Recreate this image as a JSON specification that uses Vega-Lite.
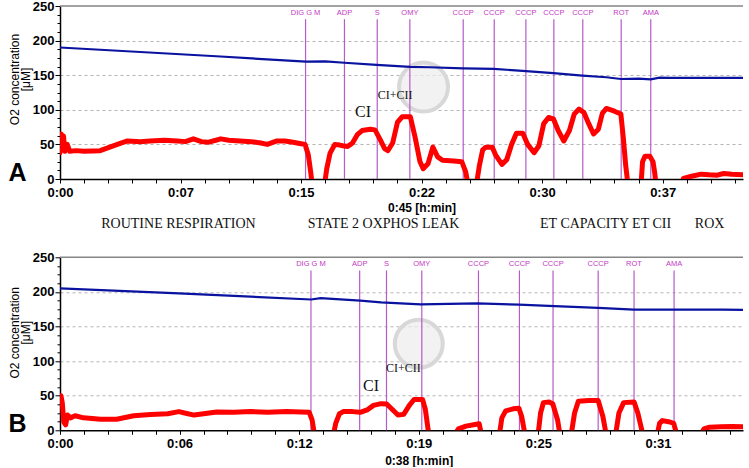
{
  "$schema": "https://vega.github.io/schema/vega-lite/v6.json",
  "padding": {"left": 8, "top": 0, "right": 0, "bottom": 0},
  "bounds": "flush",
  "spacing": 78.3,
  "config": {
    "view": {"stroke": null},
    "font": "Liberation Sans",
    "axis": {"labelFont": "Liberation Sans", "labelFontWeight": "bold", "labelFontSize": 13, "labelColor": "#000", "domainColor": "#000", "domainWidth": 1.5, "tickColor": "#000", "tickWidth": 1, "titleFont": "Liberation Sans", "titleColor": "#000", "labelFlush": false, "labelOverlap": false, "labelBound": false}
  },
  "datasets": {
    "redA": [
      {"t": 0, "v": 38, "seg": 1}, {"t": 0.08, "v": 65, "seg": 1}, {"t": 0.15, "v": 45, "seg": 1}, {"t": 0.22, "v": 62, "seg": 1}, {"t": 0.3, "v": 40, "seg": 1}, {"t": 0.45, "v": 50, "seg": 1}, {"t": 0.6, "v": 40, "seg": 1}, {"t": 1.0, "v": 41, "seg": 1}, {"t": 1.5, "v": 40, "seg": 1}, {"t": 2.5, "v": 41, "seg": 1}, {"t": 3.1, "v": 46, "seg": 1}, {"t": 3.7, "v": 51, "seg": 1}, {"t": 4.2, "v": 55, "seg": 1}, {"t": 5.0, "v": 54, "seg": 1}, {"t": 5.6, "v": 55, "seg": 1}, {"t": 6.5, "v": 56, "seg": 1}, {"t": 7.3, "v": 55, "seg": 1}, {"t": 7.8, "v": 54, "seg": 1}, {"t": 8.3, "v": 58, "seg": 1}, {"t": 8.8, "v": 54, "seg": 1}, {"t": 9.2, "v": 53, "seg": 1}, {"t": 9.7, "v": 56, "seg": 1}, {"t": 10.0, "v": 58, "seg": 1}, {"t": 10.5, "v": 56, "seg": 1}, {"t": 11.2, "v": 55, "seg": 1}, {"t": 11.9, "v": 54, "seg": 1}, {"t": 12.5, "v": 52, "seg": 1}, {"t": 12.9, "v": 50, "seg": 1}, {"t": 13.5, "v": 55, "seg": 1}, {"t": 14.0, "v": 55, "seg": 1}, {"t": 14.5, "v": 53, "seg": 1}, {"t": 15.0, "v": 51, "seg": 1}, {"t": 15.25, "v": 50, "seg": 1}, {"t": 15.45, "v": 35, "seg": 1}, {"t": 15.6, "v": 10, "seg": 1}, {"t": 15.7, "v": -10, "seg": 1},
      {"t": 16.45, "v": -10, "seg": 2}, {"t": 16.6, "v": 15, "seg": 2}, {"t": 16.8, "v": 37, "seg": 2}, {"t": 17.1, "v": 50, "seg": 2}, {"t": 17.4, "v": 49, "seg": 2}, {"t": 17.6, "v": 48, "seg": 2}, {"t": 17.9, "v": 47, "seg": 2}, {"t": 18.2, "v": 52, "seg": 2}, {"t": 18.5, "v": 64, "seg": 2}, {"t": 18.8, "v": 70, "seg": 2}, {"t": 19.3, "v": 72, "seg": 2}, {"t": 19.6, "v": 71, "seg": 2}, {"t": 19.9, "v": 58, "seg": 2}, {"t": 20.2, "v": 44, "seg": 2}, {"t": 20.4, "v": 41, "seg": 2}, {"t": 20.7, "v": 52, "seg": 2}, {"t": 21.0, "v": 82, "seg": 2}, {"t": 21.3, "v": 90, "seg": 2}, {"t": 21.8, "v": 90, "seg": 2}, {"t": 22.1, "v": 60, "seg": 2}, {"t": 22.4, "v": 25, "seg": 2}, {"t": 22.6, "v": 15, "seg": 2}, {"t": 22.9, "v": 22, "seg": 2}, {"t": 23.2, "v": 46, "seg": 2}, {"t": 23.5, "v": 32, "seg": 2}, {"t": 23.8, "v": 27, "seg": 2}, {"t": 24.5, "v": 26, "seg": 2}, {"t": 25.0, "v": 25, "seg": 2}, {"t": 25.25, "v": 10, "seg": 2}, {"t": 25.4, "v": -10, "seg": 2},
      {"t": 25.9, "v": -10, "seg": 3}, {"t": 26.1, "v": 20, "seg": 3}, {"t": 26.3, "v": 42, "seg": 3}, {"t": 26.5, "v": 46, "seg": 3}, {"t": 26.9, "v": 46, "seg": 3}, {"t": 27.1, "v": 35, "seg": 3}, {"t": 27.5, "v": 21, "seg": 3}, {"t": 27.8, "v": 28, "seg": 3}, {"t": 28.1, "v": 50, "seg": 3}, {"t": 28.4, "v": 66, "seg": 3}, {"t": 28.8, "v": 66, "seg": 3}, {"t": 29.1, "v": 50, "seg": 3}, {"t": 29.5, "v": 38, "seg": 3}, {"t": 29.8, "v": 48, "seg": 3}, {"t": 30.1, "v": 80, "seg": 3}, {"t": 30.4, "v": 89, "seg": 3}, {"t": 30.7, "v": 87, "seg": 3}, {"t": 31.0, "v": 70, "seg": 3}, {"t": 31.35, "v": 55, "seg": 3}, {"t": 31.7, "v": 70, "seg": 3}, {"t": 32.0, "v": 94, "seg": 3}, {"t": 32.3, "v": 101, "seg": 3}, {"t": 32.6, "v": 96, "seg": 3}, {"t": 32.9, "v": 80, "seg": 3}, {"t": 33.2, "v": 65, "seg": 3}, {"t": 33.5, "v": 72, "seg": 3}, {"t": 33.75, "v": 95, "seg": 3}, {"t": 34.0, "v": 102, "seg": 3}, {"t": 34.5, "v": 98, "seg": 3}, {"t": 34.9, "v": 94, "seg": 3}, {"t": 35.05, "v": 60, "seg": 3}, {"t": 35.2, "v": 20, "seg": 3}, {"t": 35.35, "v": -10, "seg": 3},
      {"t": 36.15, "v": -10, "seg": 4}, {"t": 36.25, "v": 25, "seg": 4}, {"t": 36.4, "v": 33, "seg": 4}, {"t": 36.7, "v": 33, "seg": 4}, {"t": 36.9, "v": 25, "seg": 4}, {"t": 37.0, "v": 10, "seg": 4}, {"t": 37.1, "v": -10, "seg": 4},
      {"t": 38.6, "v": -10, "seg": 5}, {"t": 38.8, "v": 1, "seg": 5}, {"t": 39.3, "v": 4, "seg": 5}, {"t": 39.9, "v": 7, "seg": 5}, {"t": 40.4, "v": 6, "seg": 5}, {"t": 40.9, "v": 5.5, "seg": 5}, {"t": 41.3, "v": 8, "seg": 5}, {"t": 41.8, "v": 7, "seg": 5}, {"t": 42.5, "v": 6, "seg": 5}
    ],
    "blueA": [
      {"t": 0, "v": 190}, {"t": 5, "v": 183.5}, {"t": 10, "v": 177}, {"t": 15.3, "v": 169.5}, {"t": 16.5, "v": 170}, {"t": 17.7, "v": 168}, {"t": 19.7, "v": 165}, {"t": 21.8, "v": 162}, {"t": 23, "v": 161.5}, {"t": 25.1, "v": 160}, {"t": 27, "v": 159}, {"t": 29, "v": 156}, {"t": 30.7, "v": 153}, {"t": 32.5, "v": 149.5}, {"t": 34, "v": 147}, {"t": 34.9, "v": 144.5}, {"t": 36, "v": 145}, {"t": 36.76, "v": 144}, {"t": 37.3, "v": 146.5}, {"t": 38, "v": 146}, {"t": 42.5, "v": 146}
    ],
    "eventsA": [
      {"t": 15.28, "label": "DIG G M"}, {"t": 17.7, "label": "ADP"}, {"t": 19.74, "label": "S"}, {"t": 21.77, "label": "OMY"}, {"t": 25.09, "label": "CCCP"}, {"t": 27.02, "label": "CCCP"}, {"t": 28.99, "label": "CCCP"}, {"t": 30.73, "label": "CCCP"}, {"t": 32.53, "label": "CCCP"}, {"t": 34.92, "label": "ROT"}, {"t": 36.76, "label": "AMA"}
    ],
    "notesA": [
      {"t": 18.86, "v": 96.4, "label": "CI", "size": "big"}, {"t": 20.85, "v": 121.8, "label": "CI+CII", "size": "small"}
    ],
    "phasesA": [
      {"t": 7.37, "label": "ROUTINE RESPIRATION"}, {"t": 20.13, "label": "STATE 2  OXPHOS LEAK"}, {"t": 33.95, "label": "ET CAPACITY ET CII"}, {"t": 40.42, "label": "ROX"}
    ],
    "logoA": [{"t": 22.62, "v": 133}],
    "redB": [
      {"t": 0, "v": 45, "seg": 1}, {"t": 0.05, "v": 50, "seg": 1}, {"t": 0.12, "v": 40, "seg": 1}, {"t": 0.2, "v": 12, "seg": 1}, {"t": 0.3, "v": 8, "seg": 1}, {"t": 0.4, "v": 22, "seg": 1}, {"t": 0.55, "v": 18, "seg": 1}, {"t": 0.8, "v": 21, "seg": 1}, {"t": 1.25, "v": 18, "seg": 1}, {"t": 2.15, "v": 16, "seg": 1}, {"t": 3.0, "v": 16, "seg": 1}, {"t": 3.9, "v": 21, "seg": 1}, {"t": 4.8, "v": 23, "seg": 1}, {"t": 5.7, "v": 24, "seg": 1}, {"t": 6.3, "v": 27, "seg": 1}, {"t": 6.6, "v": 25, "seg": 1}, {"t": 7.1, "v": 22, "seg": 1}, {"t": 7.6, "v": 24, "seg": 1}, {"t": 8.3, "v": 26.5, "seg": 1}, {"t": 9.2, "v": 26, "seg": 1}, {"t": 10.1, "v": 27, "seg": 1}, {"t": 11.0, "v": 26, "seg": 1}, {"t": 12.0, "v": 27, "seg": 1}, {"t": 12.75, "v": 26.5, "seg": 1}, {"t": 13.2, "v": 26, "seg": 1}, {"t": 13.35, "v": 15, "seg": 1}, {"t": 13.5, "v": -10, "seg": 1},
      {"t": 14.45, "v": -10, "seg": 2}, {"t": 14.6, "v": 10, "seg": 2}, {"t": 14.8, "v": 24, "seg": 2}, {"t": 15.0, "v": 27, "seg": 2}, {"t": 15.5, "v": 27, "seg": 2}, {"t": 15.9, "v": 26, "seg": 2}, {"t": 16.3, "v": 30, "seg": 2}, {"t": 16.6, "v": 36, "seg": 2}, {"t": 17.0, "v": 38.5, "seg": 2}, {"t": 17.3, "v": 38, "seg": 2}, {"t": 17.6, "v": 30, "seg": 2}, {"t": 17.9, "v": 22, "seg": 2}, {"t": 18.2, "v": 23, "seg": 2}, {"t": 18.5, "v": 36, "seg": 2}, {"t": 18.75, "v": 44.5, "seg": 2}, {"t": 19.2, "v": 44.5, "seg": 2}, {"t": 19.35, "v": 30, "seg": 2}, {"t": 19.55, "v": -10, "seg": 2},
      {"t": 20.8, "v": -10, "seg": 3}, {"t": 21.1, "v": 2, "seg": 3}, {"t": 21.5, "v": 6, "seg": 3}, {"t": 21.9, "v": 8, "seg": 3}, {"t": 22.2, "v": 9.5, "seg": 3}, {"t": 22.35, "v": -10, "seg": 3},
      {"t": 23.25, "v": -10, "seg": 4}, {"t": 23.4, "v": 18, "seg": 4}, {"t": 23.6, "v": 28, "seg": 4}, {"t": 24.0, "v": 31, "seg": 4}, {"t": 24.3, "v": 32, "seg": 4}, {"t": 24.45, "v": 20, "seg": 4}, {"t": 24.65, "v": -10, "seg": 4},
      {"t": 25.3, "v": -10, "seg": 5}, {"t": 25.45, "v": 25, "seg": 5}, {"t": 25.6, "v": 40, "seg": 5}, {"t": 25.9, "v": 41, "seg": 5}, {"t": 26.1, "v": 38, "seg": 5}, {"t": 26.35, "v": 15, "seg": 5}, {"t": 26.5, "v": -10, "seg": 5},
      {"t": 27.05, "v": -10, "seg": 6}, {"t": 27.25, "v": 25, "seg": 6}, {"t": 27.45, "v": 42, "seg": 6}, {"t": 28.0, "v": 43, "seg": 6}, {"t": 28.5, "v": 43, "seg": 6}, {"t": 28.75, "v": 20, "seg": 6}, {"t": 28.95, "v": -10, "seg": 6},
      {"t": 29.4, "v": -10, "seg": 7}, {"t": 29.6, "v": 25, "seg": 7}, {"t": 29.85, "v": 40, "seg": 7}, {"t": 30.4, "v": 41, "seg": 7}, {"t": 30.6, "v": 25, "seg": 7}, {"t": 30.9, "v": -10, "seg": 7},
      {"t": 31.6, "v": -10, "seg": 8}, {"t": 31.75, "v": 10, "seg": 8}, {"t": 31.9, "v": 14, "seg": 8}, {"t": 32.3, "v": 12, "seg": 8}, {"t": 32.5, "v": 10, "seg": 8}, {"t": 32.7, "v": -10, "seg": 8},
      {"t": 33.85, "v": -10, "seg": 9}, {"t": 34.1, "v": 2, "seg": 9}, {"t": 34.4, "v": 4.5, "seg": 9}, {"t": 35.0, "v": 5, "seg": 9}, {"t": 35.6, "v": 5.5, "seg": 9}, {"t": 36.17, "v": 5, "seg": 9}
    ],
    "blueB": [
      {"t": 0, "v": 205}, {"t": 6.3, "v": 198}, {"t": 13.3, "v": 189}, {"t": 13.8, "v": 191}, {"t": 15.9, "v": 187.5}, {"t": 17.0, "v": 185}, {"t": 19.1, "v": 182}, {"t": 22.1, "v": 183.5}, {"t": 24.3, "v": 181.5}, {"t": 26.2, "v": 179.5}, {"t": 28.5, "v": 177}, {"t": 30.4, "v": 174.5}, {"t": 32.5, "v": 174.5}, {"t": 35.1, "v": 174.5}, {"t": 36.17, "v": 174}
    ],
    "eventsB": [
      {"t": 13.29, "label": "DIG G M"}, {"t": 15.87, "label": "ADP"}, {"t": 17.29, "label": "S"}, {"t": 19.16, "label": "OMY"}, {"t": 22.16, "label": "CCCP"}, {"t": 24.33, "label": "CCCP"}, {"t": 26.11, "label": "CCCP"}, {"t": 28.5, "label": "CCCP"}, {"t": 30.4, "label": "ROT"}, {"t": 32.52, "label": "AMA"}
    ],
    "notesB": [
      {"t": 16.47, "v": 64, "label": "CI", "size": "big"}, {"t": 18.18, "v": 90, "label": "CI+CII", "size": "small"}
    ],
    "logoB": [{"t": 19.0, "v": 125}]
  },
  "vconcat": [
    {
      "width": 683, "height": 173,
      "layer": [
        {
          "data": {"name": "logoA"},
          "mark": {"type": "point", "filled": true, "fill": "#ececec", "fillOpacity": 0.7, "stroke": "#d8d8d8", "strokeWidth": 4, "size": 2400},
          "encoding": {
            "x": {"field": "t", "type": "quantitative", "scale": {"domain": [0, 42.5], "nice": false, "zero": false},
              "axis": {"values": [0,1.5,3,4.5,6,7.5,9,10.5,12,13.5,15,16.5,18,19.5,21,22.5,24,25.5,27,28.5,30,31.5,33,34.5,36,37.5,39,40.5,42], "labelExpr": "datum.value % 7.5 === 0 ? '0:' + (floor(datum.value) < 10 ? '0' : '') + floor(datum.value) : ''", "tickSize": 4, "labelPadding": 3, "grid": false, "title": "0:45 [h:min]", "titleX": 361.5, "titleY": 28, "titleBaseline": "middle", "titleAlign": "center", "titleFontWeight": "bold", "titleFontSize": 12}},
            "y": {"field": "v", "type": "quantitative", "scale": {"domain": [0, 250], "nice": false},
              "axis": {"values": [0,12.5,25,37.5,50,62.5,75,87.5,100,112.5,125,137.5,150,162.5,175,187.5,200,212.5,225,237.5,250], "labelExpr": "datum.value % 50 === 0 ? datum.value : ''", "tickSize": {"condition": {"test": "datum.value % 50 === 0", "value": 5}, "value": 3}, "labelPadding": 1, "grid": true, "gridDash": [3, 3], "gridColor": "#b4b4b4", "gridOpacity": {"condition": {"test": "datum.value % 50 === 0 && datum.value > 0 && datum.value < 250", "value": 1}, "value": 0}, "title": ["O2 concentration", "[μM]"], "titleX": -39, "titleY": 73, "titleAngle": 270, "titleBaseline": "bottom", "titleAlign": "center", "titleFontWeight": "normal", "titleFontSize": 12, "titleLineHeight": 11}}
          }
        },
        {
          "data": {"values": [{}]},
          "mark": {"type": "rule", "color": "#858585", "strokeWidth": 1.5},
          "encoding": {
            "y": {"datum": 250, "axis": {"values": [0,12.5,25,37.5,50,62.5,75,87.5,100,112.5,125,137.5,150,162.5,175,187.5,200,212.5,225,237.5,250], "labelExpr": "datum.value % 50 === 0 ? datum.value : ''", "tickSize": {"condition": {"test": "datum.value % 50 === 0", "value": 5}, "value": 3}, "labelPadding": 1, "grid": true, "gridDash": [3, 3], "gridColor": "#b4b4b4", "gridOpacity": {"condition": {"test": "datum.value % 50 === 0 && datum.value > 0 && datum.value < 250", "value": 1}, "value": 0}, "title": ["O2 concentration", "[μM]"], "titleX": -39, "titleY": 73, "titleAngle": 270, "titleBaseline": "bottom", "titleAlign": "center", "titleFontWeight": "normal", "titleFontSize": 12, "titleLineHeight": 11}}
          }
        },
        {
          "data": {"name": "eventsA"},
          "mark": {"type": "rule", "color": "#b45cc8", "strokeWidth": 1.2},
          "encoding": {
            "x": {"field": "t", "type": "quantitative", "axis": {"values": [0,1.5,3,4.5,6,7.5,9,10.5,12,13.5,15,16.5,18,19.5,21,22.5,24,25.5,27,28.5,30,31.5,33,34.5,36,37.5,39,40.5,42], "labelExpr": "datum.value % 7.5 === 0 ? '0:' + (floor(datum.value) < 10 ? '0' : '') + floor(datum.value) : ''", "tickSize": 4, "labelPadding": 3, "grid": false, "title": "0:45 [h:min]", "titleX": 361.5, "titleY": 28, "titleBaseline": "middle", "titleAlign": "center", "titleFontWeight": "bold", "titleFontSize": 12}},
            "y": {"datum": 0, "axis": {"values": [0,12.5,25,37.5,50,62.5,75,87.5,100,112.5,125,137.5,150,162.5,175,187.5,200,212.5,225,237.5,250], "labelExpr": "datum.value % 50 === 0 ? datum.value : ''", "tickSize": {"condition": {"test": "datum.value % 50 === 0", "value": 5}, "value": 3}, "labelPadding": 1, "grid": true, "gridDash": [3, 3], "gridColor": "#b4b4b4", "gridOpacity": {"condition": {"test": "datum.value % 50 === 0 && datum.value > 0 && datum.value < 250", "value": 1}, "value": 0}, "title": ["O2 concentration", "[μM]"], "titleX": -39, "titleY": 73, "titleAngle": 270, "titleBaseline": "bottom", "titleAlign": "center", "titleFontWeight": "normal", "titleFontSize": 12, "titleLineHeight": 11}},
            "y2": {"datum": 231}
          }
        },
        {
          "data": {"name": "eventsA"},
          "mark": {"type": "text", "color": "#c23ac2", "fontSize": 7.5, "font": "Liberation Sans", "baseline": "middle", "align": "center"},
          "encoding": {
            "x": {"field": "t", "type": "quantitative", "axis": {"values": [0,1.5,3,4.5,6,7.5,9,10.5,12,13.5,15,16.5,18,19.5,21,22.5,24,25.5,27,28.5,30,31.5,33,34.5,36,37.5,39,40.5,42], "labelExpr": "datum.value % 7.5 === 0 ? '0:' + (floor(datum.value) < 10 ? '0' : '') + floor(datum.value) : ''", "tickSize": 4, "labelPadding": 3, "grid": false, "title": "0:45 [h:min]", "titleX": 361.5, "titleY": 28, "titleBaseline": "middle", "titleAlign": "center", "titleFontWeight": "bold", "titleFontSize": 12}},
            "y": {"datum": 240, "axis": {"values": [0,12.5,25,37.5,50,62.5,75,87.5,100,112.5,125,137.5,150,162.5,175,187.5,200,212.5,225,237.5,250], "labelExpr": "datum.value % 50 === 0 ? datum.value : ''", "tickSize": {"condition": {"test": "datum.value % 50 === 0", "value": 5}, "value": 3}, "labelPadding": 1, "grid": true, "gridDash": [3, 3], "gridColor": "#b4b4b4", "gridOpacity": {"condition": {"test": "datum.value % 50 === 0 && datum.value > 0 && datum.value < 250", "value": 1}, "value": 0}, "title": ["O2 concentration", "[μM]"], "titleX": -39, "titleY": 73, "titleAngle": 270, "titleBaseline": "bottom", "titleAlign": "center", "titleFontWeight": "normal", "titleFontSize": 12, "titleLineHeight": 11}},
            "text": {"field": "label"}
          }
        },
        {
          "data": {"name": "blueA"},
          "mark": {"type": "line", "color": "#0a12a0", "strokeWidth": 2.2},
          "encoding": {
            "x": {"field": "t", "type": "quantitative", "axis": {"values": [0,1.5,3,4.5,6,7.5,9,10.5,12,13.5,15,16.5,18,19.5,21,22.5,24,25.5,27,28.5,30,31.5,33,34.5,36,37.5,39,40.5,42], "labelExpr": "datum.value % 7.5 === 0 ? '0:' + (floor(datum.value) < 10 ? '0' : '') + floor(datum.value) : ''", "tickSize": 4, "labelPadding": 3, "grid": false, "title": "0:45 [h:min]", "titleX": 361.5, "titleY": 28, "titleBaseline": "middle", "titleAlign": "center", "titleFontWeight": "bold", "titleFontSize": 12}},
            "y": {"field": "v", "type": "quantitative", "axis": {"values": [0,12.5,25,37.5,50,62.5,75,87.5,100,112.5,125,137.5,150,162.5,175,187.5,200,212.5,225,237.5,250], "labelExpr": "datum.value % 50 === 0 ? datum.value : ''", "tickSize": {"condition": {"test": "datum.value % 50 === 0", "value": 5}, "value": 3}, "labelPadding": 1, "grid": true, "gridDash": [3, 3], "gridColor": "#b4b4b4", "gridOpacity": {"condition": {"test": "datum.value % 50 === 0 && datum.value > 0 && datum.value < 250", "value": 1}, "value": 0}, "title": ["O2 concentration", "[μM]"], "titleX": -39, "titleY": 73, "titleAngle": 270, "titleBaseline": "bottom", "titleAlign": "center", "titleFontWeight": "normal", "titleFontSize": 12, "titleLineHeight": 11}}
          }
        },
        {
          "data": {"name": "redA"},
          "mark": {"type": "line", "color": "#ff0000", "strokeWidth": 5, "clip": true, "strokeJoin": "round", "strokeCap": "round"},
          "encoding": {
            "x": {"field": "t", "type": "quantitative", "axis": {"values": [0,1.5,3,4.5,6,7.5,9,10.5,12,13.5,15,16.5,18,19.5,21,22.5,24,25.5,27,28.5,30,31.5,33,34.5,36,37.5,39,40.5,42], "labelExpr": "datum.value % 7.5 === 0 ? '0:' + (floor(datum.value) < 10 ? '0' : '') + floor(datum.value) : ''", "tickSize": 4, "labelPadding": 3, "grid": false, "title": "0:45 [h:min]", "titleX": 361.5, "titleY": 28, "titleBaseline": "middle", "titleAlign": "center", "titleFontWeight": "bold", "titleFontSize": 12}},
            "y": {"field": "v", "type": "quantitative", "axis": {"values": [0,12.5,25,37.5,50,62.5,75,87.5,100,112.5,125,137.5,150,162.5,175,187.5,200,212.5,225,237.5,250], "labelExpr": "datum.value % 50 === 0 ? datum.value : ''", "tickSize": {"condition": {"test": "datum.value % 50 === 0", "value": 5}, "value": 3}, "labelPadding": 1, "grid": true, "gridDash": [3, 3], "gridColor": "#b4b4b4", "gridOpacity": {"condition": {"test": "datum.value % 50 === 0 && datum.value > 0 && datum.value < 250", "value": 1}, "value": 0}, "title": ["O2 concentration", "[μM]"], "titleX": -39, "titleY": 73, "titleAngle": 270, "titleBaseline": "bottom", "titleAlign": "center", "titleFontWeight": "normal", "titleFontSize": 12, "titleLineHeight": 11}},
            "detail": {"field": "seg"}
          }
        },
        {
          "data": {"name": "notesA"},
          "mark": {"type": "text", "font": "Liberation Serif", "color": "#111", "baseline": "middle", "align": "center"},
          "encoding": {
            "x": {"field": "t", "type": "quantitative", "axis": {"values": [0,1.5,3,4.5,6,7.5,9,10.5,12,13.5,15,16.5,18,19.5,21,22.5,24,25.5,27,28.5,30,31.5,33,34.5,36,37.5,39,40.5,42], "labelExpr": "datum.value % 7.5 === 0 ? '0:' + (floor(datum.value) < 10 ? '0' : '') + floor(datum.value) : ''", "tickSize": 4, "labelPadding": 3, "grid": false, "title": "0:45 [h:min]", "titleX": 361.5, "titleY": 28, "titleBaseline": "middle", "titleAlign": "center", "titleFontWeight": "bold", "titleFontSize": 12}},
            "y": {"field": "v", "type": "quantitative", "axis": {"values": [0,12.5,25,37.5,50,62.5,75,87.5,100,112.5,125,137.5,150,162.5,175,187.5,200,212.5,225,237.5,250], "labelExpr": "datum.value % 50 === 0 ? datum.value : ''", "tickSize": {"condition": {"test": "datum.value % 50 === 0", "value": 5}, "value": 3}, "labelPadding": 1, "grid": true, "gridDash": [3, 3], "gridColor": "#b4b4b4", "gridOpacity": {"condition": {"test": "datum.value % 50 === 0 && datum.value > 0 && datum.value < 250", "value": 1}, "value": 0}, "title": ["O2 concentration", "[μM]"], "titleX": -39, "titleY": 73, "titleAngle": 270, "titleBaseline": "bottom", "titleAlign": "center", "titleFontWeight": "normal", "titleFontSize": 12, "titleLineHeight": 11}},
            "text": {"field": "label"},
            "size": {"field": "size", "type": "nominal", "scale": {"domain": ["big", "small"], "range": [16, 12]}, "legend": null}
          }
        },
        {
          "data": {"name": "phasesA"},
          "mark": {"type": "text", "font": "Liberation Serif", "fontSize": 14, "color": "#111", "baseline": "middle", "align": "center", "dy": 45},
          "encoding": {
            "x": {"field": "t", "type": "quantitative", "axis": {"values": [0,1.5,3,4.5,6,7.5,9,10.5,12,13.5,15,16.5,18,19.5,21,22.5,24,25.5,27,28.5,30,31.5,33,34.5,36,37.5,39,40.5,42], "labelExpr": "datum.value % 7.5 === 0 ? '0:' + (floor(datum.value) < 10 ? '0' : '') + floor(datum.value) : ''", "tickSize": 4, "labelPadding": 3, "grid": false, "title": "0:45 [h:min]", "titleX": 361.5, "titleY": 28, "titleBaseline": "middle", "titleAlign": "center", "titleFontWeight": "bold", "titleFontSize": 12}},
            "y": {"datum": 0, "axis": {"values": [0,12.5,25,37.5,50,62.5,75,87.5,100,112.5,125,137.5,150,162.5,175,187.5,200,212.5,225,237.5,250], "labelExpr": "datum.value % 50 === 0 ? datum.value : ''", "tickSize": {"condition": {"test": "datum.value % 50 === 0", "value": 5}, "value": 3}, "labelPadding": 1, "grid": true, "gridDash": [3, 3], "gridColor": "#b4b4b4", "gridOpacity": {"condition": {"test": "datum.value % 50 === 0 && datum.value > 0 && datum.value < 250", "value": 1}, "value": 0}, "title": ["O2 concentration", "[μM]"], "titleX": -39, "titleY": 73, "titleAngle": 270, "titleBaseline": "bottom", "titleAlign": "center", "titleFontWeight": "normal", "titleFontSize": 12, "titleLineHeight": 11}},
            "text": {"field": "label"}
          }
        },
        {
          "data": {"values": [{"panel": "A"}]},
          "mark": {"type": "text", "font": "Liberation Sans", "fontWeight": "bold", "fontSize": 25, "color": "#000", "baseline": "alphabetic", "align": "left", "dx": -51.5, "dy": 2},
          "encoding": {
            "x": {"datum": 0, "axis": {"values": [0,1.5,3,4.5,6,7.5,9,10.5,12,13.5,15,16.5,18,19.5,21,22.5,24,25.5,27,28.5,30,31.5,33,34.5,36,37.5,39,40.5,42], "labelExpr": "datum.value % 7.5 === 0 ? '0:' + (floor(datum.value) < 10 ? '0' : '') + floor(datum.value) : ''", "tickSize": 4, "labelPadding": 3, "grid": false, "title": "0:45 [h:min]", "titleX": 361.5, "titleY": 28, "titleBaseline": "middle", "titleAlign": "center", "titleFontWeight": "bold", "titleFontSize": 12}},
            "y": {"datum": 0, "axis": {"values": [0,12.5,25,37.5,50,62.5,75,87.5,100,112.5,125,137.5,150,162.5,175,187.5,200,212.5,225,237.5,250], "labelExpr": "datum.value % 50 === 0 ? datum.value : ''", "tickSize": {"condition": {"test": "datum.value % 50 === 0", "value": 5}, "value": 3}, "labelPadding": 1, "grid": true, "gridDash": [3, 3], "gridColor": "#b4b4b4", "gridOpacity": {"condition": {"test": "datum.value % 50 === 0 && datum.value > 0 && datum.value < 250", "value": 1}, "value": 0}, "title": ["O2 concentration", "[μM]"], "titleX": -39, "titleY": 73, "titleAngle": 270, "titleBaseline": "bottom", "titleAlign": "center", "titleFontWeight": "normal", "titleFontSize": 12, "titleLineHeight": 11}},
            "text": {"field": "panel"}
          }
        }
      ]
    },
    {
      "width": 683, "height": 173,
      "layer": [
        {
          "data": {"name": "logoB"},
          "mark": {"type": "point", "filled": true, "fill": "#ececec", "fillOpacity": 0.7, "stroke": "#d8d8d8", "strokeWidth": 4, "size": 2300},
          "encoding": {
            "x": {"field": "t", "type": "quantitative", "scale": {"domain": [0, 36.17], "nice": false, "zero": false},
              "axis": {"values": [0,1.266667,2.533333,3.8,5.066667,6.333333,7.6,8.866667,10.133333,11.4,12.666667,13.933333,15.2,16.466667,17.733333,19,20.266667,21.533333,22.8,24.066667,25.333333,26.6,27.866667,29.133333,30.4,31.666667,32.933333,34.2,35.466667], "labelExpr": "abs(datum.value * 6 / 19 - round(datum.value * 6 / 19)) < 0.01 ? '0:' + (floor(datum.value + 0.001) < 10 ? '0' : '') + floor(datum.value + 0.001) : ''", "tickSize": 4, "labelPadding": 3, "grid": false, "title": "0:38 [h:min]", "titleX": 358.7, "titleY": 30, "titleBaseline": "middle", "titleAlign": "center", "titleFontWeight": "bold", "titleFontSize": 12}},
            "y": {"field": "v", "type": "quantitative", "scale": {"domain": [0, 250], "nice": false},
              "axis": {"values": [0,12.5,25,37.5,50,62.5,75,87.5,100,112.5,125,137.5,150,162.5,175,187.5,200,212.5,225,237.5,250], "labelExpr": "datum.value % 50 === 0 ? datum.value : ''", "tickSize": {"condition": {"test": "datum.value % 50 === 0", "value": 5}, "value": 3}, "labelPadding": 1, "grid": true, "gridDash": [3, 3], "gridColor": "#b4b4b4", "gridOpacity": {"condition": {"test": "datum.value % 50 === 0 && datum.value > 0 && datum.value < 250", "value": 1}, "value": 0}, "title": ["O2 concentration", "[μM]"], "titleX": -39, "titleY": 75, "titleAngle": 270, "titleBaseline": "bottom", "titleAlign": "center", "titleFontWeight": "normal", "titleFontSize": 12, "titleLineHeight": 11}}
          }
        },
        {
          "data": {"values": [{}]},
          "mark": {"type": "rule", "color": "#858585", "strokeWidth": 1.5},
          "encoding": {
            "y": {"datum": 250, "axis": {"values": [0,12.5,25,37.5,50,62.5,75,87.5,100,112.5,125,137.5,150,162.5,175,187.5,200,212.5,225,237.5,250], "labelExpr": "datum.value % 50 === 0 ? datum.value : ''", "tickSize": {"condition": {"test": "datum.value % 50 === 0", "value": 5}, "value": 3}, "labelPadding": 1, "grid": true, "gridDash": [3, 3], "gridColor": "#b4b4b4", "gridOpacity": {"condition": {"test": "datum.value % 50 === 0 && datum.value > 0 && datum.value < 250", "value": 1}, "value": 0}, "title": ["O2 concentration", "[μM]"], "titleX": -39, "titleY": 75, "titleAngle": 270, "titleBaseline": "bottom", "titleAlign": "center", "titleFontWeight": "normal", "titleFontSize": 12, "titleLineHeight": 11}}
          }
        },
        {
          "data": {"name": "eventsB"},
          "mark": {"type": "rule", "color": "#b45cc8", "strokeWidth": 1.2},
          "encoding": {
            "x": {"field": "t", "type": "quantitative", "axis": {"values": [0,1.266667,2.533333,3.8,5.066667,6.333333,7.6,8.866667,10.133333,11.4,12.666667,13.933333,15.2,16.466667,17.733333,19,20.266667,21.533333,22.8,24.066667,25.333333,26.6,27.866667,29.133333,30.4,31.666667,32.933333,34.2,35.466667], "labelExpr": "abs(datum.value * 6 / 19 - round(datum.value * 6 / 19)) < 0.01 ? '0:' + (floor(datum.value + 0.001) < 10 ? '0' : '') + floor(datum.value + 0.001) : ''", "tickSize": 4, "labelPadding": 3, "grid": false, "title": "0:38 [h:min]", "titleX": 358.7, "titleY": 30, "titleBaseline": "middle", "titleAlign": "center", "titleFontWeight": "bold", "titleFontSize": 12}},
            "y": {"datum": 0, "axis": {"values": [0,12.5,25,37.5,50,62.5,75,87.5,100,112.5,125,137.5,150,162.5,175,187.5,200,212.5,225,237.5,250], "labelExpr": "datum.value % 50 === 0 ? datum.value : ''", "tickSize": {"condition": {"test": "datum.value % 50 === 0", "value": 5}, "value": 3}, "labelPadding": 1, "grid": true, "gridDash": [3, 3], "gridColor": "#b4b4b4", "gridOpacity": {"condition": {"test": "datum.value % 50 === 0 && datum.value > 0 && datum.value < 250", "value": 1}, "value": 0}, "title": ["O2 concentration", "[μM]"], "titleX": -39, "titleY": 75, "titleAngle": 270, "titleBaseline": "bottom", "titleAlign": "center", "titleFontWeight": "normal", "titleFontSize": 12, "titleLineHeight": 11}},
            "y2": {"datum": 231}
          }
        },
        {
          "data": {"name": "eventsB"},
          "mark": {"type": "text", "color": "#c23ac2", "fontSize": 7.5, "font": "Liberation Sans", "baseline": "middle", "align": "center"},
          "encoding": {
            "x": {"field": "t", "type": "quantitative", "axis": {"values": [0,1.266667,2.533333,3.8,5.066667,6.333333,7.6,8.866667,10.133333,11.4,12.666667,13.933333,15.2,16.466667,17.733333,19,20.266667,21.533333,22.8,24.066667,25.333333,26.6,27.866667,29.133333,30.4,31.666667,32.933333,34.2,35.466667], "labelExpr": "abs(datum.value * 6 / 19 - round(datum.value * 6 / 19)) < 0.01 ? '0:' + (floor(datum.value + 0.001) < 10 ? '0' : '') + floor(datum.value + 0.001) : ''", "tickSize": 4, "labelPadding": 3, "grid": false, "title": "0:38 [h:min]", "titleX": 358.7, "titleY": 30, "titleBaseline": "middle", "titleAlign": "center", "titleFontWeight": "bold", "titleFontSize": 12}},
            "y": {"datum": 240, "axis": {"values": [0,12.5,25,37.5,50,62.5,75,87.5,100,112.5,125,137.5,150,162.5,175,187.5,200,212.5,225,237.5,250], "labelExpr": "datum.value % 50 === 0 ? datum.value : ''", "tickSize": {"condition": {"test": "datum.value % 50 === 0", "value": 5}, "value": 3}, "labelPadding": 1, "grid": true, "gridDash": [3, 3], "gridColor": "#b4b4b4", "gridOpacity": {"condition": {"test": "datum.value % 50 === 0 && datum.value > 0 && datum.value < 250", "value": 1}, "value": 0}, "title": ["O2 concentration", "[μM]"], "titleX": -39, "titleY": 75, "titleAngle": 270, "titleBaseline": "bottom", "titleAlign": "center", "titleFontWeight": "normal", "titleFontSize": 12, "titleLineHeight": 11}},
            "text": {"field": "label"}
          }
        },
        {
          "data": {"name": "blueB"},
          "mark": {"type": "line", "color": "#0a12a0", "strokeWidth": 2.2},
          "encoding": {
            "x": {"field": "t", "type": "quantitative", "axis": {"values": [0,1.266667,2.533333,3.8,5.066667,6.333333,7.6,8.866667,10.133333,11.4,12.666667,13.933333,15.2,16.466667,17.733333,19,20.266667,21.533333,22.8,24.066667,25.333333,26.6,27.866667,29.133333,30.4,31.666667,32.933333,34.2,35.466667], "labelExpr": "abs(datum.value * 6 / 19 - round(datum.value * 6 / 19)) < 0.01 ? '0:' + (floor(datum.value + 0.001) < 10 ? '0' : '') + floor(datum.value + 0.001) : ''", "tickSize": 4, "labelPadding": 3, "grid": false, "title": "0:38 [h:min]", "titleX": 358.7, "titleY": 30, "titleBaseline": "middle", "titleAlign": "center", "titleFontWeight": "bold", "titleFontSize": 12}},
            "y": {"field": "v", "type": "quantitative", "axis": {"values": [0,12.5,25,37.5,50,62.5,75,87.5,100,112.5,125,137.5,150,162.5,175,187.5,200,212.5,225,237.5,250], "labelExpr": "datum.value % 50 === 0 ? datum.value : ''", "tickSize": {"condition": {"test": "datum.value % 50 === 0", "value": 5}, "value": 3}, "labelPadding": 1, "grid": true, "gridDash": [3, 3], "gridColor": "#b4b4b4", "gridOpacity": {"condition": {"test": "datum.value % 50 === 0 && datum.value > 0 && datum.value < 250", "value": 1}, "value": 0}, "title": ["O2 concentration", "[μM]"], "titleX": -39, "titleY": 75, "titleAngle": 270, "titleBaseline": "bottom", "titleAlign": "center", "titleFontWeight": "normal", "titleFontSize": 12, "titleLineHeight": 11}}
          }
        },
        {
          "data": {"name": "redB"},
          "mark": {"type": "line", "color": "#ff0000", "strokeWidth": 5, "clip": true, "strokeJoin": "round", "strokeCap": "round"},
          "encoding": {
            "x": {"field": "t", "type": "quantitative", "axis": {"values": [0,1.266667,2.533333,3.8,5.066667,6.333333,7.6,8.866667,10.133333,11.4,12.666667,13.933333,15.2,16.466667,17.733333,19,20.266667,21.533333,22.8,24.066667,25.333333,26.6,27.866667,29.133333,30.4,31.666667,32.933333,34.2,35.466667], "labelExpr": "abs(datum.value * 6 / 19 - round(datum.value * 6 / 19)) < 0.01 ? '0:' + (floor(datum.value + 0.001) < 10 ? '0' : '') + floor(datum.value + 0.001) : ''", "tickSize": 4, "labelPadding": 3, "grid": false, "title": "0:38 [h:min]", "titleX": 358.7, "titleY": 30, "titleBaseline": "middle", "titleAlign": "center", "titleFontWeight": "bold", "titleFontSize": 12}},
            "y": {"field": "v", "type": "quantitative", "axis": {"values": [0,12.5,25,37.5,50,62.5,75,87.5,100,112.5,125,137.5,150,162.5,175,187.5,200,212.5,225,237.5,250], "labelExpr": "datum.value % 50 === 0 ? datum.value : ''", "tickSize": {"condition": {"test": "datum.value % 50 === 0", "value": 5}, "value": 3}, "labelPadding": 1, "grid": true, "gridDash": [3, 3], "gridColor": "#b4b4b4", "gridOpacity": {"condition": {"test": "datum.value % 50 === 0 && datum.value > 0 && datum.value < 250", "value": 1}, "value": 0}, "title": ["O2 concentration", "[μM]"], "titleX": -39, "titleY": 75, "titleAngle": 270, "titleBaseline": "bottom", "titleAlign": "center", "titleFontWeight": "normal", "titleFontSize": 12, "titleLineHeight": 11}},
            "detail": {"field": "seg"}
          }
        },
        {
          "data": {"name": "notesB"},
          "mark": {"type": "text", "font": "Liberation Serif", "color": "#111", "baseline": "middle", "align": "center"},
          "encoding": {
            "x": {"field": "t", "type": "quantitative", "axis": {"values": [0,1.266667,2.533333,3.8,5.066667,6.333333,7.6,8.866667,10.133333,11.4,12.666667,13.933333,15.2,16.466667,17.733333,19,20.266667,21.533333,22.8,24.066667,25.333333,26.6,27.866667,29.133333,30.4,31.666667,32.933333,34.2,35.466667], "labelExpr": "abs(datum.value * 6 / 19 - round(datum.value * 6 / 19)) < 0.01 ? '0:' + (floor(datum.value + 0.001) < 10 ? '0' : '') + floor(datum.value + 0.001) : ''", "tickSize": 4, "labelPadding": 3, "grid": false, "title": "0:38 [h:min]", "titleX": 358.7, "titleY": 30, "titleBaseline": "middle", "titleAlign": "center", "titleFontWeight": "bold", "titleFontSize": 12}},
            "y": {"field": "v", "type": "quantitative", "axis": {"values": [0,12.5,25,37.5,50,62.5,75,87.5,100,112.5,125,137.5,150,162.5,175,187.5,200,212.5,225,237.5,250], "labelExpr": "datum.value % 50 === 0 ? datum.value : ''", "tickSize": {"condition": {"test": "datum.value % 50 === 0", "value": 5}, "value": 3}, "labelPadding": 1, "grid": true, "gridDash": [3, 3], "gridColor": "#b4b4b4", "gridOpacity": {"condition": {"test": "datum.value % 50 === 0 && datum.value > 0 && datum.value < 250", "value": 1}, "value": 0}, "title": ["O2 concentration", "[μM]"], "titleX": -39, "titleY": 75, "titleAngle": 270, "titleBaseline": "bottom", "titleAlign": "center", "titleFontWeight": "normal", "titleFontSize": 12, "titleLineHeight": 11}},
            "text": {"field": "label"},
            "size": {"field": "size", "type": "nominal", "scale": {"domain": ["big", "small"], "range": [16, 12]}, "legend": null}
          }
        },
        {
          "data": {"values": [{"panel": "B"}]},
          "mark": {"type": "text", "font": "Liberation Sans", "fontWeight": "bold", "fontSize": 25, "color": "#000", "baseline": "alphabetic", "align": "left", "dx": -51.5, "dy": 2},
          "encoding": {
            "x": {"datum": 0, "axis": {"values": [0,1.266667,2.533333,3.8,5.066667,6.333333,7.6,8.866667,10.133333,11.4,12.666667,13.933333,15.2,16.466667,17.733333,19,20.266667,21.533333,22.8,24.066667,25.333333,26.6,27.866667,29.133333,30.4,31.666667,32.933333,34.2,35.466667], "labelExpr": "abs(datum.value * 6 / 19 - round(datum.value * 6 / 19)) < 0.01 ? '0:' + (floor(datum.value + 0.001) < 10 ? '0' : '') + floor(datum.value + 0.001) : ''", "tickSize": 4, "labelPadding": 3, "grid": false, "title": "0:38 [h:min]", "titleX": 358.7, "titleY": 30, "titleBaseline": "middle", "titleAlign": "center", "titleFontWeight": "bold", "titleFontSize": 12}},
            "y": {"datum": 0, "axis": {"values": [0,12.5,25,37.5,50,62.5,75,87.5,100,112.5,125,137.5,150,162.5,175,187.5,200,212.5,225,237.5,250], "labelExpr": "datum.value % 50 === 0 ? datum.value : ''", "tickSize": {"condition": {"test": "datum.value % 50 === 0", "value": 5}, "value": 3}, "labelPadding": 1, "grid": true, "gridDash": [3, 3], "gridColor": "#b4b4b4", "gridOpacity": {"condition": {"test": "datum.value % 50 === 0 && datum.value > 0 && datum.value < 250", "value": 1}, "value": 0}, "title": ["O2 concentration", "[μM]"], "titleX": -39, "titleY": 75, "titleAngle": 270, "titleBaseline": "bottom", "titleAlign": "center", "titleFontWeight": "normal", "titleFontSize": 12, "titleLineHeight": 11}},
            "text": {"field": "panel"}
          }
        }
      ]
    }
  ]
}
